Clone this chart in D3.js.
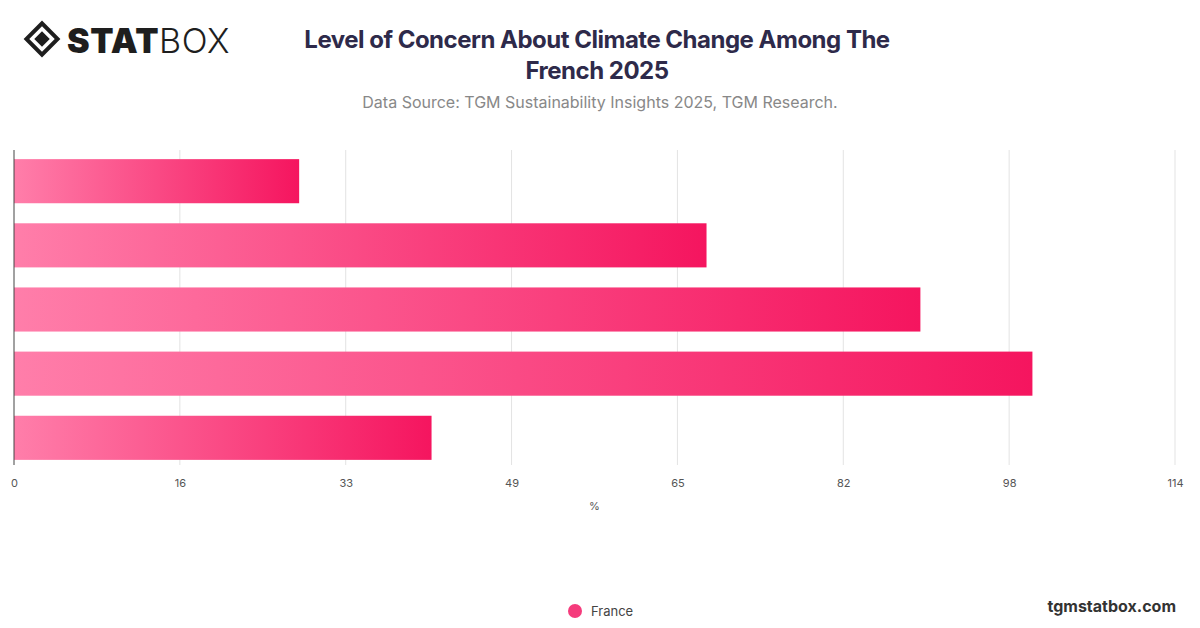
<!DOCTYPE html>
<html>
<head>
<meta charset="utf-8">
<script src="https://cdn.jsdelivr.net/npm/d3@7"></script>
<style>
  body { margin: 0; background: #fff; font-family: Inter, "Noto Sans", sans-serif; }
</style>
</head>
<body>
<svg id="chart" width="1200" height="628"></svg>
<script>
// level of concern, top to bottom (category labels are not drawn in the original)
var categories = ["Not at all concerned", "Slightly concerned", "Moderately concerned", "Very concerned", "Extremely concerned"];
var values = [28, 68, 89, 100, 41];
var tickValues = [0, 114 / 7, 228 / 7, 342 / 7, 456 / 7, 570 / 7, 684 / 7, 114];
var tickLabels = ["0", "16", "33", "49", "65", "82", "98", "114"];
var seriesName = "France";

var margin = {top: 150, right: 25, bottom: 163, left: 14};
var width = 1200 - margin.left - margin.right;
var height = 628 - margin.top - margin.bottom;

var svg = d3.select("#chart");

var defs = svg.append("defs");
var grad = defs.append("linearGradient").attr("id", "barGrad")
  .attr("x1", "0%").attr("x2", "100%").attr("y1", "0%").attr("y2", "0%");
grad.append("stop").attr("offset", "0%").attr("stop-color", "#ff7eaa");
grad.append("stop").attr("offset", "100%").attr("stop-color", "#f5155f");

// logo
var logo = svg.append("g").attr("transform", "translate(27,26)");
logo.append("rect").attr("x", 4).attr("y", 2).attr("width", 22).attr("height", 22)
  .attr("transform", "rotate(45,15,13)").attr("fill", "none").attr("stroke", "#1e1e1e").attr("stroke-width", 4);
logo.append("rect").attr("x", 9.5).attr("y", 7.5).attr("width", 11).attr("height", 11)
  .attr("transform", "rotate(45,15,13)").attr("fill", "#1e1e1e");
logo.append("text").attr("x", 40).attr("y", 27).attr("font-size", 34).attr("font-weight", 900)
  .attr("fill", "#1e1e1e").attr("font-family", "Inter, sans-serif").attr("letter-spacing", 0.5)
  .text("STAT").append("tspan").attr("font-weight", 300).text("BOX");

svg.append("text").attr("x", 597).attr("y", 48).attr("text-anchor", "middle")
  .attr("font-size", 24).attr("font-weight", 700).attr("fill", "#2e2a4a").attr("letter-spacing", -0.5)
  .text("Level of Concern About Climate Change Among The");
svg.append("text").attr("x", 597).attr("y", 79).attr("text-anchor", "middle")
  .attr("font-size", 24).attr("font-weight", 700).attr("fill", "#2e2a4a").attr("letter-spacing", -0.5)
  .text("French 2025");
svg.append("text").attr("x", 600).attr("y", 108).attr("text-anchor", "middle")
  .attr("font-size", 16).attr("fill", "#888").text("Data Source: TGM Sustainability Insights 2025, TGM Research.");

var g = svg.append("g").attr("transform", "translate(" + margin.left + "," + margin.top + ")");

var x = d3.scaleLinear().domain([0, 114]).range([0, width]);
var y = d3.scaleBand().domain(categories).range([4, height]).paddingInner(0.3125).paddingOuter(0.08);

// grid
g.selectAll(".grid").data(tickValues.slice(1)).enter().append("line")
  .attr("x1", function(d) { return x(d); }).attr("x2", function(d) { return x(d); })
  .attr("y1", 0).attr("y2", height).attr("stroke", "#e3e3e3");

g.selectAll(".bar").data(values).enter().append("rect")
  .attr("x", 0)
  .attr("y", function(d, i) { return y(categories[i]); })
  .attr("width", function(d) { return x(d); })
  .attr("height", y.bandwidth())
  .attr("fill", "url(#barGrad)");

g.append("line").attr("x1", 0).attr("x2", 0).attr("y1", 0).attr("y2", height).attr("stroke", "#444");

var xAxis = g.append("g").attr("transform", "translate(0," + height + ")")
  .call(d3.axisBottom(x).tickValues(tickValues).tickSize(0).tickPadding(14)
    .tickFormat(function(d, i) { return tickLabels[i]; }));
xAxis.select(".domain").remove();
xAxis.selectAll("text").attr("font-size", 11).attr("fill", "#555").attr("font-family", "Inter, sans-serif");

g.append("text").attr("x", x(114 / 2)).attr("y", height + 45).attr("text-anchor", "middle")
  .attr("font-size", 11).attr("fill", "#555").text("%");

// legend
svg.append("circle").attr("cx", 575).attr("cy", 611).attr("r", 7).attr("fill", "#f53b7c");
svg.append("text").attr("x", 591).attr("y", 616).attr("font-size", 13).attr("fill", "#444").text(seriesName);

svg.append("text").attr("x", 1176).attr("y", 612).attr("text-anchor", "end")
  .attr("font-size", 16).attr("font-weight", 700).attr("fill", "#333").text("tgmstatbox.com");
</script>
</body>
</html>
